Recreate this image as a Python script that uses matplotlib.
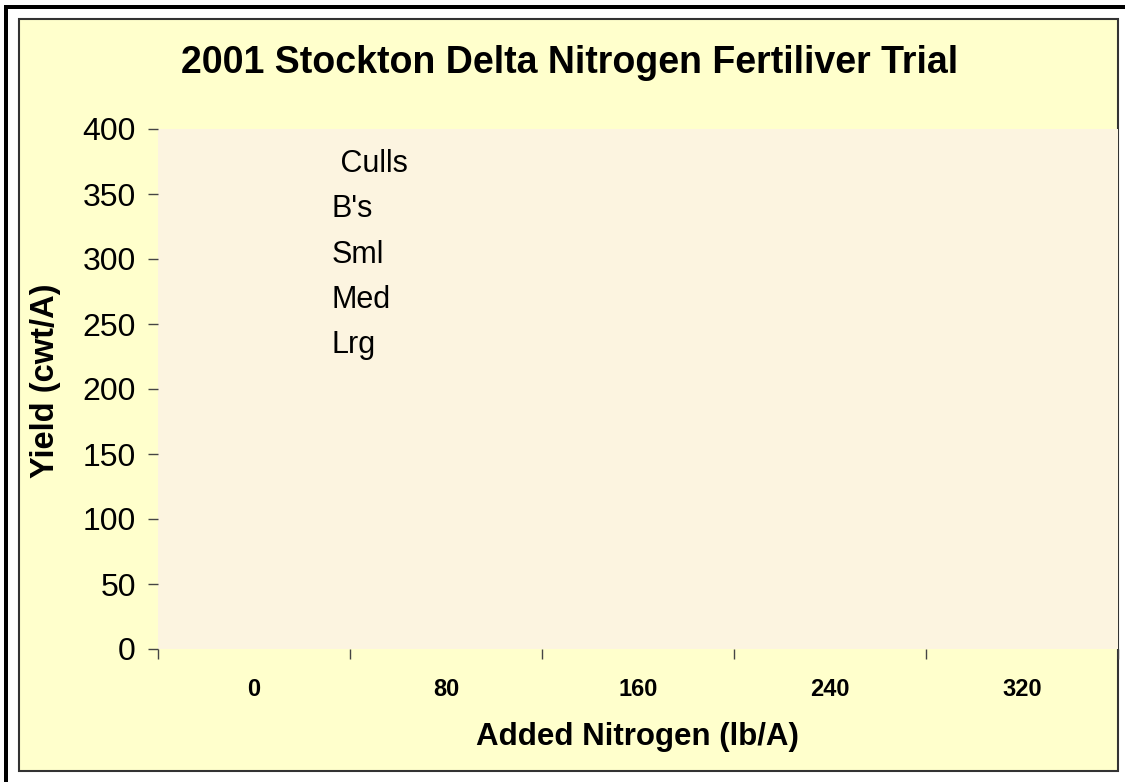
import numpy as np
import matplotlib
matplotlib.use("Agg")
import matplotlib.pyplot as plt
from matplotlib.patches import Rectangle

plt.rcParams['font.family'] = ['Liberation Sans', 'DejaVu Sans']

# chart data: the source sheet had no values filled in, so the series are empty
categories = ['0', '80', '160', '240', '320']
series_names = ['Lrg', 'Med', 'Sml', "B's", 'Culls']
series_values = {
    'Lrg':   [np.nan, np.nan, np.nan, np.nan, np.nan],
    'Med':   [np.nan, np.nan, np.nan, np.nan, np.nan],
    'Sml':   [np.nan, np.nan, np.nan, np.nan, np.nan],
    "B's":   [np.nan, np.nan, np.nan, np.nan, np.nan],
    'Culls': [np.nan, np.nan, np.nan, np.nan, np.nan],
}
yticks = [0, 50, 100, 150, 200, 250, 300, 350, 400]

W, H = 1125, 782
fig = plt.figure(figsize=(W / 100, H / 100), dpi=100, facecolor='white')

# outer black frame (top + left) and the pale yellow chart box
fig.patches.append(Rectangle((4 / W, 1 - 9 / H), 1 - 4 / W, 4 / H, transform=fig.transFigure,
                             facecolor='black', edgecolor='none', zorder=-10))
fig.patches.append(Rectangle((4 / W, 0), 4 / W, 1 - 5 / H, transform=fig.transFigure,
                             facecolor='black', edgecolor='none', zorder=-10))
fig.patches.append(Rectangle((19 / W, 1 - 771 / H), (1118 - 19) / W, (771 - 19) / H,
                             transform=fig.transFigure, facecolor='#FFFFCC',
                             edgecolor='#333333', linewidth=1.5, zorder=-10))

ax = fig.add_axes([158 / W, 1 - 649 / H, (1118 - 158) / W, (649 - 129) / H])
ax.set_facecolor('#FCF4E0')

x = np.arange(len(categories))
bottom = np.zeros(len(categories))
handles = []
for name in series_names:
    vals = np.array(series_values[name], dtype=float)
    b = ax.bar(x, np.nan_to_num(vals), bottom=bottom, width=0.5, label=name)
    bottom += np.nan_to_num(vals)
    handles.append(b)

ax.set_xlim(-0.5, len(categories) - 0.5)
ax.set_ylim(0, 400)
ax.set_yticks(yticks)
ax.tick_params(axis='y', direction='out', length=7, width=1, color='#444444',
               labelsize=23, pad=9)

ax.set_xticks(np.arange(len(categories) + 1) - 0.5)
ax.set_xticklabels([])
ax.set_xticks(x, minor=True)
ax.set_xticklabels(categories, minor=True, fontsize=17, fontweight='bold')
ax.tick_params(axis='x', which='major', direction='out', length=7, width=1, color='#444444')
ax.tick_params(axis='x', which='minor', length=0, pad=21)

for s in ax.spines.values():
    s.set_visible(False)

fig.text(637 / W, 1 - 737 / H, 'Added Nitrogen (lb/A)', fontsize=22.5, fontweight='bold',
         ha='center', va='center')
fig.text(46 / W, 1 - 381 / H, 'Yield (cwt/A)', fontsize=23.5, fontweight='bold',
         ha='center', va='center', rotation=90)
fig.text(570 / W, 1 - 63 / H, '2001 Stockton Delta Nitrogen Fertiliver Trial',
         fontsize=27, fontweight='bold', ha='center', va='center')

# legend: text only, top entry first
leg_labels = [' Culls', "B's", 'Sml', 'Med', 'Lrg']
leg = ax.legend(handles[::-1], leg_labels, loc='upper left',
                bbox_to_anchor=((332 - 158) / (1118 - 158), 1 - (149 - 129) / (649 - 129)),
                frameon=False, fontsize=22, handlelength=0, handletextpad=0,
                borderpad=0, borderaxespad=0, labelspacing=0.5)
for h in leg.legend_handles:
    h.set_visible(False)

fig.savefig('out.png', dpi=100, facecolor=fig.get_facecolor())
